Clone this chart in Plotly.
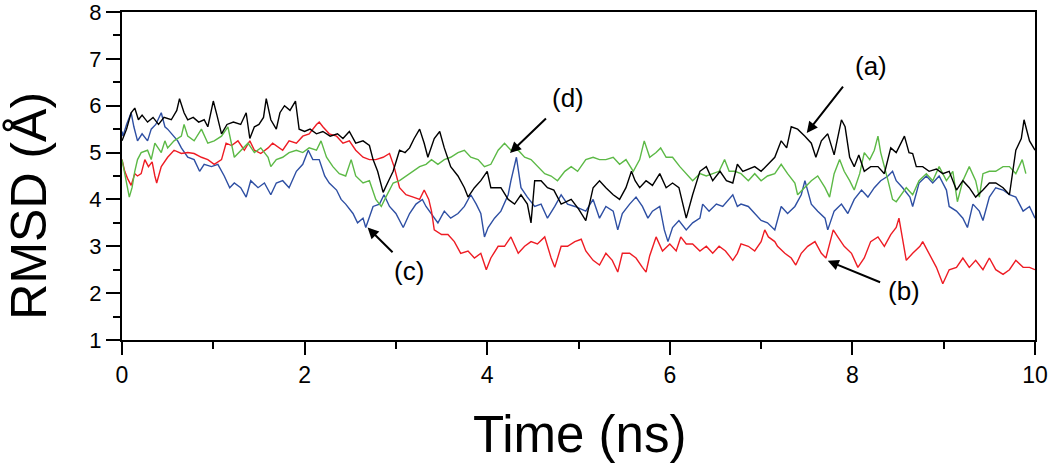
import plotly.graph_objects as go

# ---- data (time in ns, RMSD in Å) ----
t_a = [0.0,0.05,0.1,0.14,0.18,0.22,0.28,0.34,0.4,0.46,0.54,0.6,0.63,0.68,0.72,0.78,0.84,0.9,0.94,1.0,1.04,1.09,1.15,1.22,1.3,1.36,1.4,1.45,1.5,1.55,1.58,1.63,1.69,1.73,1.78,1.84,1.9,1.94,2.0,2.06,2.13,2.2,2.28,2.36,2.42,2.49,2.56,2.64,2.71,2.75,2.8,2.86,2.92,2.97,3.04,3.1,3.15,3.2,3.26,3.31,3.35,3.42,3.48,3.53,3.6,3.68,3.75,3.79,3.86,3.93,4.0,4.04,4.15,4.23,4.3,4.37,4.44,4.48,4.52,4.59,4.66,4.73,4.81,4.92,5.0,5.08,5.16,5.23,5.3,5.38,5.45,5.52,5.58,5.62,5.67,5.74,5.81,5.89,5.96,6.03,6.1,6.14,6.18,6.25,6.33,6.4,6.47,6.55,6.62,6.69,6.74,6.8,6.86,6.93,7.0,7.08,7.15,7.22,7.28,7.33,7.4,7.48,7.55,7.6,7.66,7.73,7.8,7.88,7.92,7.97,8.02,8.07,8.13,8.2,8.28,8.35,8.42,8.48,8.53,8.57,8.62,8.66,8.7,8.77,8.84,8.92,8.99,9.06,9.14,9.21,9.28,9.35,9.43,9.5,9.57,9.65,9.72,9.79,9.85,9.88,9.94,10.0]
rmsd_a = [5.25,5.5,5.85,5.95,5.7,5.8,5.65,5.75,5.6,5.75,5.7,5.9,6.15,5.85,5.7,5.75,5.65,5.7,5.55,6.1,5.8,5.4,5.6,5.65,5.6,5.85,5.3,5.55,5.6,5.75,6.15,5.7,5.5,5.85,6.0,5.9,6.1,5.5,5.45,5.5,5.4,5.45,5.35,5.4,5.3,5.45,5.2,5.25,5.15,4.85,4.6,4.15,4.4,4.6,5.05,5.0,5.1,5.3,5.5,5.2,4.9,5.3,5.45,5.1,4.7,4.5,4.25,4.05,4.25,4.4,4.6,4.25,4.25,4.0,3.9,4.1,3.9,3.5,4.4,4.4,4.25,4.2,3.9,4.0,3.8,3.55,4.25,4.4,4.25,4.1,4.0,4.25,4.6,4.4,4.25,4.4,4.3,4.55,4.25,4.35,4.25,3.9,3.6,4.1,4.6,4.7,4.4,4.6,4.4,4.35,4.75,4.6,4.65,4.7,4.6,4.75,4.9,5.25,5.1,5.55,5.5,5.35,5.2,4.9,5.25,5.4,4.95,5.7,5.55,4.9,4.7,4.95,4.6,4.7,4.7,4.55,5.1,5.0,5.2,5.35,5.0,4.98,4.7,4.7,4.6,4.65,4.55,4.6,4.2,4.4,4.25,4.05,4.2,4.35,4.35,4.25,4.1,5.05,5.3,5.7,5.25,5.05]

t_b = [0.0,0.03,0.06,0.1,0.14,0.17,0.21,0.25,0.29,0.33,0.36,0.38,0.43,0.5,0.57,0.65,0.72,0.79,0.87,0.94,1.01,1.09,1.14,1.2,1.27,1.34,1.4,1.45,1.52,1.6,1.65,1.69,1.76,1.83,1.91,1.98,2.05,2.13,2.16,2.2,2.27,2.35,2.42,2.49,2.56,2.64,2.71,2.78,2.86,2.93,2.98,3.04,3.11,3.19,3.26,3.31,3.36,3.39,3.42,3.5,3.57,3.64,3.71,3.79,3.86,3.93,3.99,4.04,4.12,4.19,4.26,4.34,4.41,4.48,4.55,4.63,4.7,4.74,4.81,4.88,4.96,5.03,5.08,5.16,5.23,5.3,5.37,5.43,5.48,5.56,5.63,5.7,5.74,5.78,5.85,5.92,6.0,6.07,6.12,6.18,6.25,6.33,6.4,6.47,6.54,6.61,6.69,6.74,6.78,6.86,6.93,7.0,7.04,7.08,7.15,7.18,7.26,7.33,7.38,7.44,7.51,7.59,7.66,7.71,7.79,7.84,7.91,7.99,8.06,8.13,8.2,8.28,8.35,8.42,8.48,8.51,8.55,8.59,8.66,8.74,8.77,8.84,8.92,8.99,9.06,9.14,9.21,9.28,9.35,9.43,9.5,9.57,9.65,9.72,9.79,9.87,9.94,10.0]
rmsd_b = [4.85,4.6,4.45,4.3,4.55,4.5,4.55,4.85,4.7,4.8,4.5,4.35,4.7,4.9,5.05,4.98,5.0,4.98,4.9,4.85,4.75,4.85,5.2,5.15,5.25,5.05,5.25,5.05,4.98,5.1,5.2,5.15,5.05,5.25,5.2,5.35,5.4,5.6,5.65,5.55,5.4,5.35,5.2,5.25,5.05,4.9,4.85,4.85,4.9,4.98,4.7,4.25,4.1,4.05,4.0,4.2,4.0,3.75,3.35,3.25,3.25,3.1,2.85,2.9,2.75,2.85,2.5,2.75,3.0,3.0,3.2,2.85,3.0,3.1,3.05,3.2,2.75,2.55,3.0,3.0,3.1,3.15,2.9,2.7,2.6,2.85,2.7,2.45,2.85,2.85,2.75,2.55,2.45,2.8,3.2,2.9,3.05,2.9,3.2,3.05,3.05,2.9,3.0,2.85,3.0,2.9,2.7,2.85,3.05,3.0,2.9,3.1,3.35,3.2,3.1,3.0,2.85,2.75,2.6,2.85,3.0,3.1,2.85,2.75,3.35,3.2,3.0,2.85,2.55,2.75,3.1,3.2,3.0,3.25,3.4,3.6,3.1,2.7,2.85,3.0,3.1,2.85,2.55,2.2,2.5,2.55,2.75,2.55,2.7,2.5,2.75,2.5,2.4,2.5,2.7,2.55,2.55,2.5]

t_c = [0.0,0.01,0.05,0.1,0.13,0.17,0.22,0.28,0.32,0.37,0.43,0.47,0.5,0.56,0.61,0.65,0.72,0.79,0.85,0.9,0.98,1.05,1.12,1.18,1.23,1.3,1.36,1.41,1.49,1.56,1.63,1.69,1.76,1.83,1.91,1.98,2.04,2.09,2.16,2.22,2.27,2.35,2.4,2.45,2.53,2.58,2.64,2.67,2.75,2.82,2.87,2.93,3.0,3.08,3.15,3.22,3.29,3.33,3.39,3.46,3.53,3.6,3.68,3.75,3.82,3.88,3.93,3.97,4.01,4.08,4.15,4.23,4.26,4.32,4.37,4.44,4.52,4.59,4.66,4.74,4.81,4.88,4.96,5.03,5.08,5.16,5.23,5.3,5.38,5.43,5.48,5.56,5.63,5.7,5.76,5.81,5.89,5.94,5.98,6.03,6.1,6.18,6.25,6.33,6.36,6.43,6.51,6.58,6.65,6.69,6.74,6.78,6.86,6.93,7.0,7.07,7.15,7.22,7.29,7.37,7.44,7.48,7.55,7.62,7.7,7.73,7.8,7.88,7.95,8.02,8.1,8.17,8.24,8.31,8.39,8.44,8.48,8.55,8.63,8.66,8.73,8.81,8.88,8.95,9.03,9.06,9.14,9.21,9.26,9.32,9.39,9.43,9.5,9.57,9.65,9.72,9.79,9.87,9.94,10.0]
rmsd_c = [5.45,5.35,5.6,5.85,5.55,5.25,5.4,5.25,5.5,5.6,5.85,5.55,5.5,5.35,5.25,5.1,4.9,4.85,4.6,4.75,4.7,4.75,4.5,4.25,4.35,4.25,4.05,4.4,4.25,4.35,4.1,4.35,4.4,4.25,4.6,4.75,5.05,4.85,4.85,4.5,4.35,4.2,4.0,3.9,3.7,3.5,3.6,3.4,3.85,3.9,4.1,3.85,3.7,3.4,3.7,3.9,4.0,3.85,3.7,3.5,3.75,3.6,3.7,3.85,4.1,3.9,3.7,3.2,3.4,3.6,3.75,4.1,4.4,4.9,4.25,4.05,3.85,3.9,3.6,3.85,4.1,3.9,3.85,3.8,3.75,4.0,3.6,3.85,3.75,3.35,3.7,3.9,4.05,3.85,3.6,3.75,3.85,3.35,3.1,3.4,3.55,3.35,3.5,3.6,3.9,3.75,3.9,3.85,4.0,4.1,3.85,3.9,3.85,3.7,3.55,3.5,3.35,3.85,3.7,3.85,4.1,4.4,3.9,3.75,3.6,3.35,3.75,3.9,3.7,4.0,4.2,4.05,4.25,4.4,4.5,4.6,4.4,4.25,4.05,3.85,4.35,4.5,4.35,4.5,4.2,3.85,3.75,3.6,3.4,3.9,3.75,3.55,4.05,4.25,4.2,4.1,4.05,3.75,3.85,3.6]

t_d = [0.0,0.05,0.08,0.11,0.14,0.17,0.21,0.28,0.32,0.36,0.43,0.47,0.5,0.57,0.65,0.68,0.72,0.79,0.87,0.94,1.01,1.09,1.16,1.23,1.3,1.38,1.45,1.52,1.6,1.63,1.69,1.76,1.83,1.91,1.98,2.05,2.13,2.18,2.24,2.31,2.38,2.45,2.51,2.56,2.64,2.71,2.78,2.84,2.89,2.97,3.04,3.11,3.19,3.26,3.33,3.39,3.46,3.53,3.6,3.68,3.75,3.82,3.9,3.97,4.04,4.12,4.19,4.26,4.34,4.41,4.48,4.55,4.63,4.7,4.77,4.85,4.92,4.99,5.05,5.08,5.16,5.23,5.3,5.38,5.45,5.52,5.6,5.67,5.72,5.78,5.85,5.9,5.96,6.03,6.11,6.18,6.25,6.33,6.4,6.47,6.54,6.6,6.65,6.71,6.78,6.86,6.93,7.0,7.07,7.15,7.22,7.29,7.37,7.4,7.48,7.55,7.62,7.7,7.75,7.8,7.86,7.91,7.97,8.02,8.08,8.13,8.19,8.24,8.28,8.31,8.39,8.44,8.48,8.52,8.59,8.66,8.73,8.81,8.88,8.95,9.03,9.1,9.15,9.21,9.28,9.35,9.39,9.43,9.5,9.57,9.65,9.72,9.79,9.86,9.9]
rmsd_d = [4.85,4.35,4.05,4.25,4.6,4.85,5.0,5.05,4.85,5.2,5.0,5.25,5.1,5.25,5.35,5.6,5.35,5.25,5.5,5.2,5.25,5.35,5.55,4.9,5.05,5.2,5.0,5.1,4.9,4.7,4.85,4.9,5.0,5.05,5.0,5.1,5.05,5.25,4.9,4.7,4.55,4.5,4.85,4.5,4.35,4.4,4.0,3.85,4.05,4.35,4.4,4.5,4.6,4.7,4.75,4.85,4.75,4.85,4.9,5.0,5.05,4.9,4.85,4.7,4.75,5.05,5.2,5.05,5.05,4.9,4.85,4.7,4.55,4.5,4.4,4.6,4.7,4.6,4.75,4.85,4.9,4.85,4.85,4.9,4.75,4.85,4.6,4.85,5.25,4.9,5.0,5.1,4.9,4.9,4.7,4.55,4.4,4.55,4.5,4.55,4.6,4.85,4.6,4.6,4.55,4.4,4.55,4.4,4.5,4.55,4.75,4.55,4.35,4.1,4.25,4.4,4.5,4.25,4.05,4.55,4.85,4.6,4.4,4.2,4.55,5.0,4.85,5.05,5.35,5.0,4.4,4.0,3.95,4.05,4.25,4.1,4.4,4.55,4.4,4.7,4.4,4.6,3.95,4.4,4.7,4.4,4.05,4.55,4.6,4.6,4.7,4.7,4.55,4.85,4.55]

labels = ["(a)", "(b)", "(c)", "(d)"]
# label centre, arrow tail and arrow head positions (time, RMSD)
label_t = [8.2, 8.57, 3.14, 4.89]
label_v = [6.85, 2.05, 2.48, 6.16]
tail_t = [7.91, 8.32, 2.98, 4.66]
tail_v = [6.44, 2.22, 2.84, 5.76]
head_t = [7.5, 7.73, 2.69, 4.25]
head_v = [5.42, 2.69, 3.40, 4.99]

FONT = "Liberation Sans, Arial, Helvetica, sans-serif"

fig = go.Figure()
series = [
    (t_c, rmsd_c, "#2e4fa3", "(c)"),
    (t_b, rmsd_b, "#ee1c24", "(b)"),
    (t_d, rmsd_d, "#5cb946", "(d)"),
    (t_a, rmsd_a, "#000000", "(a)"),
]
for tx, vy, col, name in series:
    fig.add_trace(go.Scatter(x=tx, y=vy, mode="lines", name=name,
                             line=dict(color=col, width=1.4), showlegend=False))

anns = []
for lab, lt, lv, tt, tv, ht, hv in zip(labels, label_t, label_v, tail_t, tail_v, head_t, head_v):
    anns.append(dict(x=ht, y=hv, ax=tt, ay=tv, xref="x", yref="y", axref="x", ayref="y",
                     text="", showarrow=True, arrowhead=2, arrowsize=1.1, arrowwidth=2,
                     arrowcolor="black", standoff=0))
    anns.append(dict(x=lt, y=lv, xref="x", yref="y", text=lab, showarrow=False,
                     font=dict(family=FONT, size=26, color="black"),
                     xanchor="center", yanchor="middle"))

# y title centred at ~ (29 px, 206 px), x title at ~ (580 px, 435 px)
anns.append(dict(x=-0.102, y=0.409, xref="paper", yref="paper", text="RMSD (Å)",
                 textangle=-90, showarrow=False, xanchor="center", yanchor="middle",
                 font=dict(family=FONT, size=50, color="black")))
anns.append(dict(x=0.5016, y=-0.288, xref="paper", yref="paper", text="Time (ns)",
                 showarrow=False, xanchor="center", yanchor="middle",
                 font=dict(family=FONT, size=51, color="black")))

fig.update_layout(
    width=1050, height=465,
    margin=dict(l=122, r=15, t=12, b=125, autoexpand=False),
    paper_bgcolor="white", plot_bgcolor="white",
    annotations=anns,
    xaxis=dict(range=[0, 10], tickmode="array", tickvals=[0, 2, 4, 6, 8, 10],
               automargin=False, ticklabeloverflow="allow",
               ticks="outside", ticklen=13, tickwidth=2, tickcolor="black",
               showline=True, linewidth=2, linecolor="black", mirror=True,
               showgrid=False, zeroline=False,
               tickfont=dict(family=FONT, size=23, color="black"),
               minor=dict(tickmode="array", tickvals=[1, 3, 5, 7, 9], ticks="outside",
                          ticklen=7, tickwidth=2, tickcolor="black", showgrid=False)),
    yaxis=dict(range=[1, 8], tickmode="array", tickvals=[1, 2, 3, 4, 5, 6, 7, 8],
               automargin=False, ticklabeloverflow="allow",
               ticks="outside", ticklen=14, tickwidth=2, tickcolor="black",
               showline=True, linewidth=2, linecolor="black", mirror=True,
               showgrid=False, zeroline=False,
               tickfont=dict(family=FONT, size=22, color="black"),
               minor=dict(tickmode="array", tickvals=[1.5, 2.5, 3.5, 4.5, 5.5, 6.5, 7.5],
                          ticks="outside", ticklen=7, tickwidth=2, tickcolor="black",
                          showgrid=False)),
)

fig.write_html("out.html", config={"displayModeBar": False},
               post_script="document.body.style.margin='0';document.body.style.overflow='hidden';")
